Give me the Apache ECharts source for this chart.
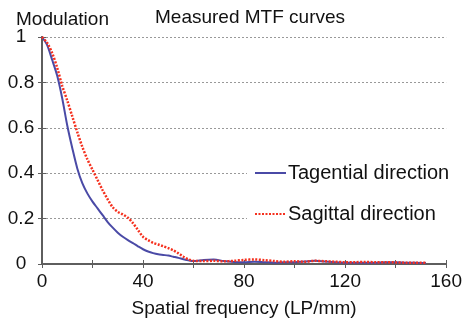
<!DOCTYPE html>
<html>
<head>
<meta charset="utf-8">
<script src="https://cdn.jsdelivr.net/npm/echarts@6/dist/echarts.min.js"></script>
<style>
html,body{margin:0;padding:0;background:#fff;}
#chart{width:465px;height:327px;}
</style>
</head>
<body>
<div id="chart"></div>
<script>
const freq = [0,2,4,6,8,10,12,14,16,18,20,22,24,26,28,30,32,34,36,38,40,42,44,46,48,50,52,54,56,58,60,
  64,68,72,76,80,84,88,92,96,100,104,108,112,116,120,124,128,132,136,140,144,148,152];
const tangential = [1.0,0.965,0.90,0.83,0.73,0.61,0.51,0.42,0.355,0.31,0.275,0.245,0.215,0.185,0.16,0.138,0.12,0.105,0.092,0.078,0.065,0.055,0.048,0.043,0.04,0.037,0.032,0.027,0.021,0.016,0.013,
  0.018,0.02,0.013,0.009,0.008,0.01,0.008,0.006,0.008,0.008,0.011,0.014,0.011,0.008,0.006,0.005,0.005,0.006,0.008,0.008,0.006,0.005,0.004];
const sagittal = [1.0,0.975,0.93,0.865,0.785,0.72,0.65,0.58,0.515,0.46,0.415,0.37,0.325,0.285,0.25,0.23,0.218,0.204,0.18,0.15,0.12,0.105,0.093,0.086,0.078,0.07,0.06,0.047,0.032,0.02,0.014,
  0.013,0.014,0.012,0.014,0.018,0.02,0.017,0.013,0.01,0.012,0.01,0.014,0.012,0.01,0.008,0.008,0.009,0.008,0.008,0.007,0.006,0.006,0.005];
const seriesNames = ['Tagential direction','Sagittal direction'];
const chartTitle = 'Measured MTF curves';
const yName = 'Modulation';
const xName = 'Spatial frequency (LP/mm)';

const FONT = '"Liberation Sans", Arial, sans-serif';
const axisColor = '#5e5e5e';
const chart = echarts.init(document.getElementById('chart'), null, {renderer:'canvas'});
const pairs = arr => freq.map((f,i)=>[f, arr[i]]);

chart.setOption({
  animation:false,
  backgroundColor:'#fff',
  title:[
    {text:yName, left:11, top:5, textStyle:{fontFamily:FONT, fontSize:19, fontWeight:'normal', color:'#111'}},
    {text:chartTitle, left:150, top:3, textStyle:{fontFamily:FONT, fontSize:19, fontWeight:'normal', color:'#111'}}
  ],
  grid:{left:42, right:8, top:37, bottom:63, containLabel:false},
  legend:{
    orient:'vertical', left:247, top:157,
    backgroundColor:'#fff', padding:[6,4,6,7],
    itemWidth:31, itemHeight:20, itemGap:21,
    itemStyle:{opacity:0, borderWidth:0},
    textStyle:{fontFamily:FONT, fontSize:20, color:'#111', lineHeight:20, padding:[0,0,0,-3]},
    data:seriesNames
  },
  xAxis:[
    {type:'value', min:0, max:160, interval:20, position:'bottom',
     name:xName, nameLocation:'middle', nameGap:35,
     nameTextStyle:{fontFamily:FONT, fontSize:19, color:'#111'},
     axisLine:{show:true, lineStyle:{color:axisColor, width:2}},
     axisTick:{show:true, inside:true, length:4, lineStyle:{color:axisColor, width:1}},
     axisLabel:{fontFamily:FONT, fontSize:19, color:'#111', margin:8,
       formatter:v=> (v%40===0 ? String(v) : '')},
     splitLine:{show:false}},
    {type:'value', min:0, max:160, interval:20, position:'top',
     axisLine:{show:true, lineStyle:{color:axisColor, width:2}},
     axisTick:{show:true, inside:true, length:4, lineStyle:{color:axisColor, width:1}},
     axisLabel:{show:false}, splitLine:{show:false}}
  ],
  yAxis:[
    {type:'value', min:0, max:1, interval:0.2, position:'left',
     axisLine:{show:true, lineStyle:{color:axisColor, width:2}},
     axisTick:{show:true, inside:true, length:4, lineStyle:{color:axisColor, width:1}},
     axisLabel:{fontFamily:FONT, fontSize:19, color:'#111', margin:21, align:'center',
       formatter:v=> (v===0||v===1) ? String(v) : v.toFixed(1)},
     splitLine:{show:true, lineStyle:{color:'#999', width:1, type:[2,2]}}},
    {type:'value', min:0, max:1, interval:0.2, position:'right',
     axisLine:{show:true, lineStyle:{color:axisColor, width:2}},
     axisTick:{show:true, inside:true, length:4, lineStyle:{color:axisColor, width:1}},
     axisLabel:{show:false}, splitLine:{show:false}}
  ],
  series:[
    {name:seriesNames[0], type:'line', data:pairs(tangential), smooth:0.3, symbol:'none',
     lineStyle:{color:'#4a4aa6', width:2}, itemStyle:{color:'#4a4aa6'}, z:2},
    {name:seriesNames[1], type:'line', data:pairs(sagittal), smooth:0.3, symbol:'none',
     lineStyle:{color:'#f5301e', width:2.5, type:[2,1.5]}, itemStyle:{color:'#f5301e'}, z:3}
  ]
});
</script>
</body>
</html>
